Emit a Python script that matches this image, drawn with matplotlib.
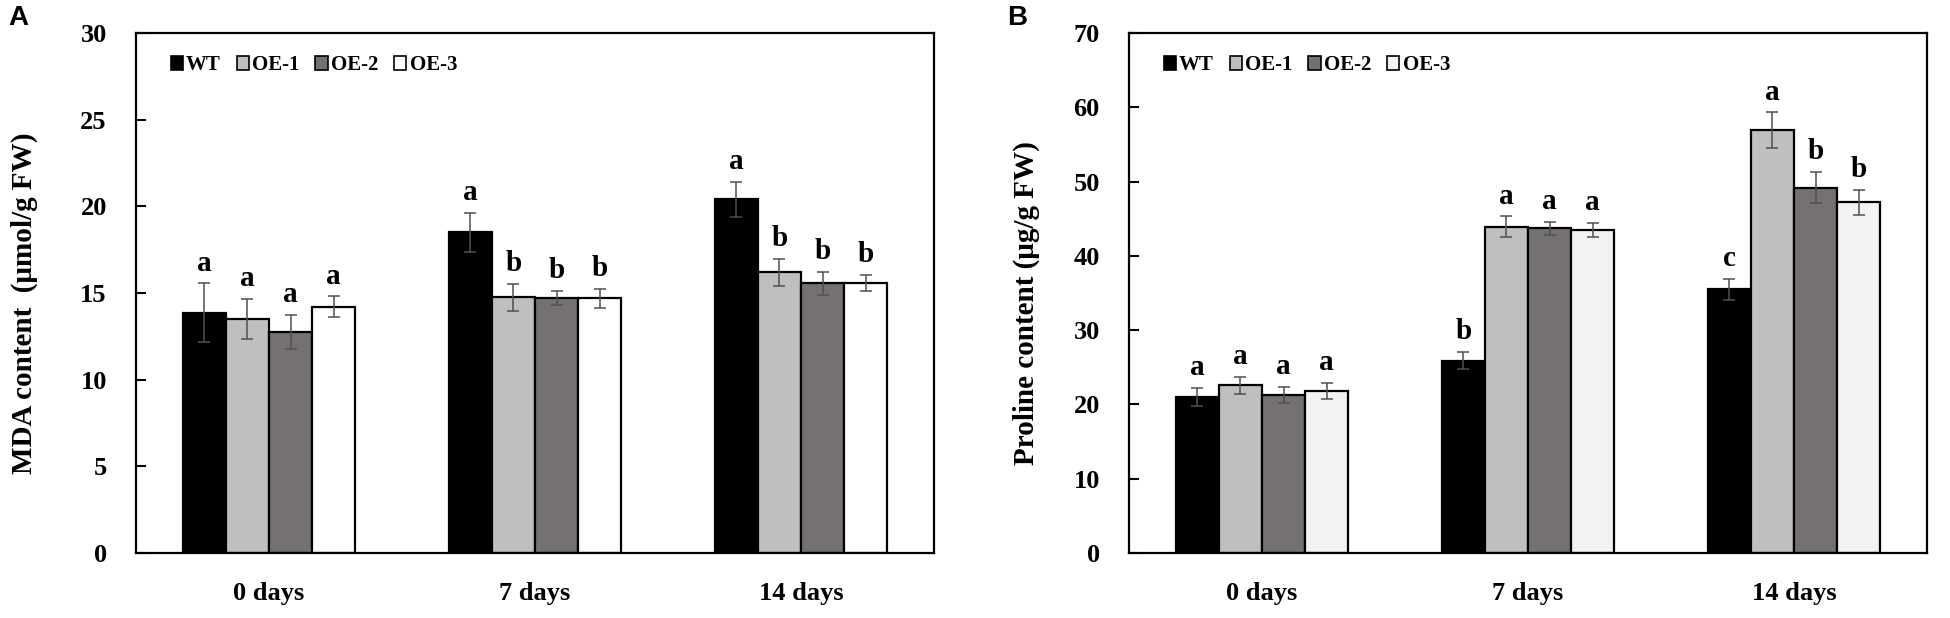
import matplotlib
matplotlib.use("Agg")
import matplotlib.pyplot as plt
import numpy as np

# ---------------- data ----------------
groups = ["0 days", "7 days", "14 days"]
series = ["WT", "OE-1", "OE-2", "OE-3"]

mda_WT = [13.85, 18.5, 20.4]
mda_OE1 = [13.5, 14.75, 16.2]
mda_OE2 = [12.75, 14.7, 15.55]
mda_OE3 = [14.2, 14.7, 15.6]
mda_err_WT = [1.7, 1.13, 1.03]
mda_err_OE1 = [1.17, 0.77, 0.77]
mda_err_OE2 = [0.96, 0.42, 0.65]
mda_err_OE3 = [0.6, 0.55, 0.46]
mda_letters = [["a", "a", "a"], ["a", "b", "b"], ["a", "b", "b"], ["a", "b", "b"]]

pro_WT = [21.0, 25.9, 35.5]
pro_OE1 = [22.6, 43.9, 56.9]
pro_OE2 = [21.3, 43.7, 49.2]
pro_OE3 = [21.8, 43.5, 47.2]
pro_err_WT = [1.2, 1.1, 1.4]
pro_err_OE1 = [1.15, 1.4, 2.4]
pro_err_OE2 = [1.05, 0.9, 2.05]
pro_err_OE3 = [1.05, 0.95, 1.65]
pro_letters = [["a", "b", "c"], ["a", "a", "a"], ["a", "a", "b"], ["a", "a", "b"]]

mda_ticks = [0, 5, 10, 15, 20, 25, 30]
pro_ticks = [0, 10, 20, 30, 40, 50, 60, 70]

# ---------------- style ----------------
serif = ["Liberation Serif", "DejaVu Serif"]
plt.rcParams["font.family"] = serif
plt.rcParams["font.weight"] = "bold"

colors_A = ["#000000", "#bfbfbf", "#767171", "#ffffff"]
colors_B = ["#000000", "#bfbfbf", "#767171", "#f2f2f2"]

fig = plt.figure(figsize=(19.5, 6.18), dpi=100)
axA = fig.add_axes([136 / 1950, 1 - 553 / 618, 798 / 1950, 520 / 618])
axB = fig.add_axes([1129 / 1950, 1 - 553 / 618, 798 / 1950, 520 / 618])

bw = 0.162
x = np.arange(len(groups))


def panel(ax, vals, errs, letters, colors, ticks, ylabel, label_x):
    for i, (v, e, c, name) in enumerate(zip(vals, errs, colors, series)):
        pos = x + (i - 1.5) * bw
        ax.bar(pos, v, width=bw, color=c, edgecolor="black", linewidth=1.6,
               label=name, zorder=2)
        ax.errorbar(pos, v, yerr=e, fmt="none", ecolor="#505050",
                    elinewidth=1.1, capsize=4.5, capthick=1.1, zorder=3)
        for j in range(len(groups)):
            ax.annotate(letters[i][j], (pos[j], v[j] + e[j]),
                        xytext=(0, 5), textcoords="offset points",
                        ha="center", va="bottom", fontsize=21,
                        fontweight="bold", family=serif)
    ax.set_xlim(-0.5, 2.5)
    ax.set_ylim(ticks[0], ticks[-1])
    ax.set_yticks(ticks)
    ax.set_xticks(x)
    ax.set_xticklabels(groups)
    ax.tick_params(axis="y", direction="in", length=7, width=1.5,
                   labelsize=19, pad=21)
    ax.tick_params(axis="x", length=0, labelsize=19, pad=21)
    for lab in ax.get_xticklabels() + ax.get_yticklabels():
        lab.set_fontweight("bold")
    for s in ax.spines.values():
        s.set_linewidth(1.6)
    ax.set_ylabel(ylabel, fontsize=21, fontweight="bold")
    ax.yaxis.set_label_coords(label_x, 0.48)
    leg = ax.legend(loc="upper left", bbox_to_anchor=(0.025, 0.985), ncol=4,
                    frameon=False, fontsize=15, handlelength=0.6,
                    handleheight=0.6, handletextpad=0.15, columnspacing=0.75,
                    borderaxespad=0.3)
    for t in leg.get_texts():
        t.set_fontweight("bold")
    for h in leg.legend_handles:
        h.set_linewidth(1.2)


panel(axA, [mda_WT, mda_OE1, mda_OE2, mda_OE3],
      [mda_err_WT, mda_err_OE1, mda_err_OE2, mda_err_OE3],
      mda_letters, colors_A, mda_ticks,
      "MDA content  (\u03bcmol/g FW)", (38 - 136) / 798)
panel(axB, [pro_WT, pro_OE1, pro_OE2, pro_OE3],
      [pro_err_WT, pro_err_OE1, pro_err_OE2, pro_err_OE3],
      pro_letters, colors_B, pro_ticks,
      "Proline content (\u03bcg/g FW)", (1040 - 1129) / 798)

fig.text(18 / 1950, 1 - 18 / 618, "A", fontsize=20, fontweight="bold",
         family=["Liberation Sans", "DejaVu Sans"], ha="center", va="center")
fig.text(1017 / 1950, 1 - 18 / 618, "B", fontsize=20, fontweight="bold",
         family=["Liberation Sans", "DejaVu Sans"], ha="center", va="center")

fig.savefig("out.png", dpi=100)
